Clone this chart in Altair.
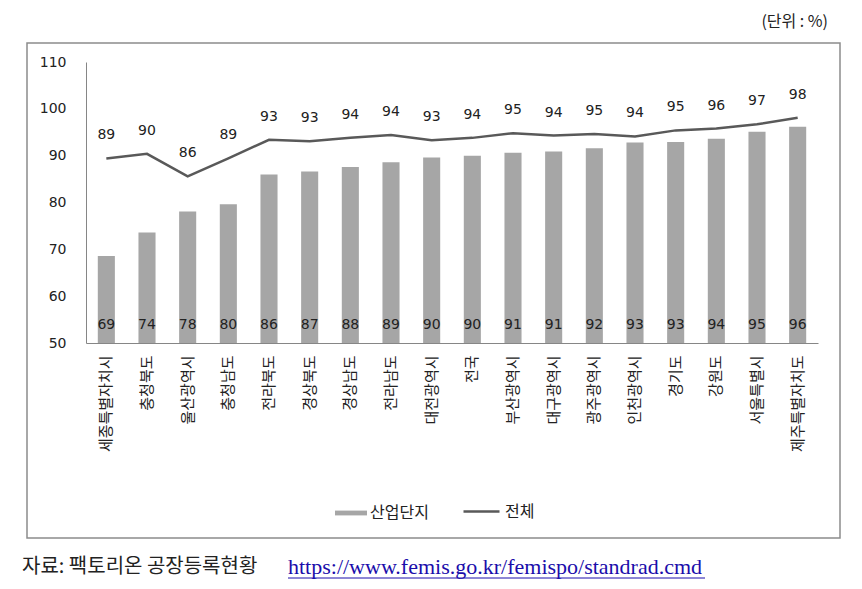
import altair as alt
import pandas as pd

regions = ["세종특별자치시", "충청북도", "울산광역시", "충청남도", "전라북도", "경상북도",
           "경상남도", "전라남도", "대전광역시", "전국", "부산광역시", "대구광역시",
           "광주광역시", "인천광역시", "경기도", "강원도", "서울특별시", "제주특별자치도"]
industrial = [68.6, 73.6, 78.1, 79.6, 86.0, 86.6, 87.6, 88.6, 89.6, 90.0, 90.6, 90.9,
              91.6, 92.8, 92.9, 93.6, 95.1, 96.2]
overall = [89.4, 90.4, 85.6, 89.4, 93.4, 93.1, 93.8, 94.4, 93.3, 93.8, 94.8, 94.3,
           94.6, 94.1, 95.4, 95.8, 96.7, 98.1]
y_ticks = [50, 60, 70, 80, 90, 100, 110]
series_names = ["산업단지", "전체"]
unit_text = "(단위 : %)"
source_text = "자료: 팩토리온 공장등록현황"
source_url = "https://www.femis.go.kr/femispo/standrad.cmd"

df = pd.DataFrame({"region": regions, "industrial": industrial, "overall": overall,
                   "s1": series_names[0], "s2": series_names[1]})
one = pd.DataFrame({"a": [0]})

FONT_NUM = "DejaVu Sans"
FONT_KR = "Noto Sans CJK KR"
BAR = "#a6a6a6"
LINE = "#595959"
AXIS = "#868686"

x = alt.X("region:N", sort=regions, title=None,
          scale=alt.Scale(paddingInner=0.58, paddingOuter=0.29),
          axis=alt.Axis(labelAngle=-90, labelFont=FONT_KR, labelFontSize=15,
                        labelColor="#222222", labelPadding=12, ticks=False,
                        domainColor=AXIS, domainWidth=1, labelLimit=300))
yscale = alt.Scale(domain=[50, 110], nice=False, zero=False)
y_axis = alt.Axis(values=y_ticks, grid=False, ticks=False, domainColor=AXIS,
                  labelFont=FONT_NUM, labelFontSize=14, labelColor="#222222",
                  labelPadding=20)

base = alt.Chart(df)

bars = base.mark_bar().encode(
    x=x,
    y=alt.Y("industrial:Q", scale=yscale, title=None, axis=y_axis),
    y2=alt.datum(50),
    fill=alt.Fill("s1:N",
                  scale=alt.Scale(domain=[series_names[0]], range=[BAR]),
                  legend=alt.Legend(title=None, orient="none", legendX=249, legendY=435,
                                    symbolType="M-1,-0.15H1V0.15H-1Z", symbolSize=1024,
                                    symbolStrokeWidth=0, labelOffset=3, padding=0,
                                    labelFont=FONT_KR, labelFontSize=16,
                                    labelColor="#222222")),
)

line = base.mark_line(strokeWidth=2.5).encode(
    x=x,
    y=alt.Y("overall:Q", scale=yscale),
    stroke=alt.Stroke("s2:N",
                      scale=alt.Scale(domain=[series_names[1]], range=[LINE]),
                      legend=alt.Legend(title=None, orient="none", legendX=376, legendY=430,
                                        symbolType="stroke", symbolSize=1296,
                                        symbolStrokeWidth=2.5, labelOffset=4, padding=0,
                                        labelFont=FONT_KR, labelFontSize=16,
                                        labelColor="#222222")),
)

bar_labels = base.mark_text(font=FONT_NUM, fontSize=14, color="#222222",
                            baseline="middle", dy=-18).encode(
    x=x, y=alt.datum(50), text=alt.Text("industrial:Q", format=".0f"))

line_labels = base.mark_text(font=FONT_NUM, fontSize=14, color="#222222",
                             baseline="middle", dy=-23).encode(
    x=x, y=alt.Y("overall:Q", scale=yscale), text=alt.Text("overall:Q", format=".0f"))

border = alt.Chart(one).mark_rect(fill=None, stroke="#8c8c8c", strokeWidth=1.5).encode(
    x=alt.value(-59), x2=alt.value(754), y=alt.value(-19), y2=alt.value(476))

unit = alt.Chart(one).mark_text(text=unit_text, font=FONT_KR, fontSize=16, align="right",
                                baseline="middle", color="#222222").encode(
    x=alt.value(742), y=alt.value(-40))

source = alt.Chart(one).mark_text(text=source_text, font=FONT_KR, fontSize=20, align="left",
                                  baseline="middle", color="#222222").encode(
    x=alt.value(-64), y=alt.value(505))

url = alt.Chart(one).mark_text(text=source_url, font="Liberation Serif", fontSize=22,
                               align="left", baseline="middle", color="#1a0dab").encode(
    x=alt.value(202), y=alt.value(505))

underline = alt.Chart(one).mark_rule(color="#1a0dab", strokeWidth=1).encode(
    x=alt.value(202), x2=alt.value(619), y=alt.value(516))

chart = alt.layer(border, bars, line, bar_labels, line_labels, unit, source, url, underline).properties(
    width=732, height=281,
    padding={"left": 78, "top": 54, "right": 30, "bottom": 238},
    autosize=alt.AutoSizeParams(type="none"),
    background="white",
).resolve_scale(fill="independent", stroke="independent").configure_view(stroke=None)

chart.save("out.html", embed_options={"renderer": "svg", "actions": False})
